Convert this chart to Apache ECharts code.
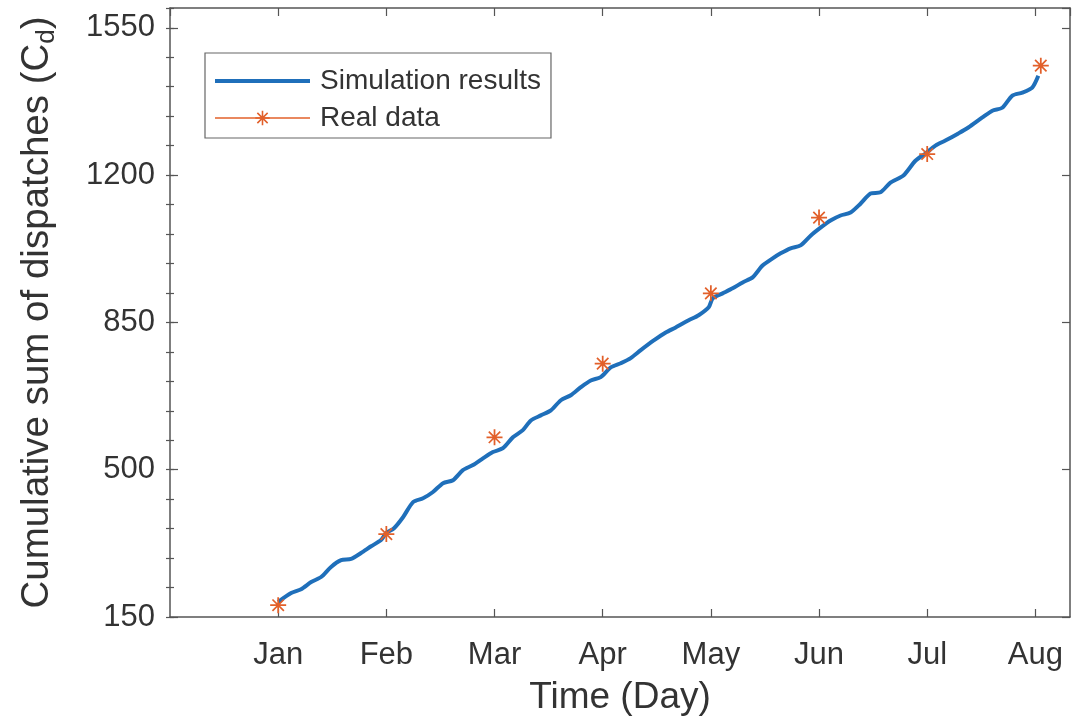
<!DOCTYPE html>
<html>
<head>
<meta charset="utf-8">
<script src="https://cdn.jsdelivr.net/npm/echarts@6/dist/echarts.min.js"></script>
<style>
html,body{margin:0;padding:0;background:#fff;}
#chart{width:1081px;height:722px;}
</style>
</head>
<body>
<div id="chart"></div>
<script>
// x positions are in month units: 1 = Jan, 2 = Feb, ... 8 = Aug
const monthLabels = ['', 'Jan', 'Feb', 'Mar', 'Apr', 'May', 'Jun', 'Jul', 'Aug'];
const simX = [1.000,1.120,1.212,1.305,1.397,1.489,1.582,1.674,1.766,1.859,1.951,1.997,2.071,2.154,2.247,2.339,2.431,2.524,2.616,2.708,2.801,2.893,2.985,3.078,3.170,3.262,3.336,3.428,3.521,3.613,3.705,3.798,3.890,3.982,4.075,4.167,4.259,4.352,4.472,4.583,4.675,4.795,4.887,4.980,5.017,5.109,5.201,5.294,5.386,5.478,5.571,5.645,5.737,5.829,5.922,6.014,6.106,6.199,6.291,6.383,6.476,6.568,6.660,6.780,6.891,6.983,7.076,7.168,7.288,7.380,7.510,7.602,7.694,7.787,7.879,7.971,8.027];
const simY = [186,207,216,233,245,269,285,288,302,318,333,349,361,387,423,432,447,468,475,499,511,527,542,551,577,594,617,629,641,665,677,696,712,720,743,753,765,784,807,826,838,855,867,886,907,919,931,945,957,985,1002,1014,1026,1033,1056,1075,1092,1104,1111,1132,1156,1159,1182,1199,1234,1251,1270,1282,1299,1313,1337,1353,1360,1389,1396,1408,1436];
const realX = [1, 2, 3, 4, 5, 6, 7, 8.05];
const realY = [178, 347, 577, 752, 919, 1099, 1250, 1460];
const yTicks = [150, 500, 850, 1200, 1550];

const simData = simX.map((x, i) => [x, simY[i]]);
const realData = realX.map((x, i) => [x, realY[i]]);

const asterisk = 'path://M8.9 0L11.1 0L11.1 20L8.9 20Z M0 8.9L20 8.9L20 11.1L0 11.1Z M2.1 3.6L3.6 2.1L17.9 16.4L16.4 17.9Z M16.4 2.1L17.9 3.6L3.6 17.9L2.1 16.4Z';

const FONT = 'Liberation Sans, Arial, sans-serif';
const AX = '#555';
const TXT = '#333';
const BLUE = '#1f6fba';
const ORANGE = '#E2602A';
const X_MIN = 0, X_MAX = 8.32, Y_MIN = yTicks[0], Y_MAX = 1597;

const chart = echarts.init(document.getElementById('chart'));
const xBase = {
  type: 'value', min: X_MIN, max: X_MAX, interval: 1,
  axisLine: { show: true, onZero: false, lineStyle: { color: AX, width: 1.5 } },
  axisTick: { show: true, inside: true, length: 8, lineStyle: { color: AX, width: 1.2 } },
  splitLine: { show: false }
};
const yBase = {
  type: 'value', min: Y_MIN, max: Y_MAX, interval: 350,
  axisLine: { show: true, onZero: false, lineStyle: { color: AX, width: 1.5 } },
  axisTick: { show: true, inside: true, length: 8, lineStyle: { color: AX, width: 1.2 } },
  splitLine: { show: false }
};
const yMinor = {
  type: 'value', min: Y_MIN, max: Y_MAX, interval: 70,
  axisLine: { show: false },
  axisLabel: { show: false },
  axisTick: { show: true, inside: true, length: 4, lineStyle: { color: AX, width: 1.2 } },
  splitLine: { show: false }
};

chart.setOption({
  animation: false,
  backgroundColor: '#fff',
  textStyle: { fontFamily: FONT },
  grid: { left: 170, right: 11, top: 8, bottom: 105, containLabel: false },
  xAxis: [
    Object.assign({}, xBase, {
      position: 'bottom',
      name: 'Time (Day)', nameLocation: 'middle', nameGap: 62,
      nameTextStyle: { fontSize: 37, color: TXT, fontFamily: FONT },
      axisLabel: {
        show: true, margin: 23, fontSize: 31, color: TXT, fontFamily: FONT,
        showMaxLabel: false, showMinLabel: false,
        formatter: v => (Math.abs(v - Math.round(v)) < 1e-6 ? (monthLabels[Math.round(v)] || '') : '')
      }
    }),
    Object.assign({}, xBase, { position: 'top', axisLabel: { show: false } })
  ],
  yAxis: [
    Object.assign({}, yBase, {
      position: 'left',
      name: '{a|Cumulative sum of dispatches (C}{s|d}{a|)}',
      nameLocation: 'middle', nameGap: 110,
      nameTextStyle: {
        color: TXT, fontFamily: FONT,
        rich: {
          a: { fontSize: 38.5, color: TXT, fontFamily: FONT, lineHeight: 46, verticalAlign: 'middle' },
          s: { fontSize: 26, color: TXT, fontFamily: FONT, lineHeight: 46, verticalAlign: 'bottom' }
        }
      },
      axisLabel: {
        show: true, margin: 15, fontSize: 31, color: TXT, fontFamily: FONT,
        showMaxLabel: false,
        formatter: v => (yTicks.indexOf(Math.round(v)) >= 0 && Math.abs(v - Math.round(v)) < 1e-6 ? String(Math.round(v)) : '')
      }
    }),
    Object.assign({}, yBase, { position: 'right', axisLabel: { show: false } }),
    Object.assign({}, yMinor, { position: 'left' }),
    Object.assign({}, yMinor, { position: 'right' })
  ],
  legend: {
    orient: 'vertical',
    left: 205, top: 53,
    padding: [13, 10, 5, 8],
    itemWidth: 95, itemHeight: 18, itemGap: 7,
    backgroundColor: '#fff',
    borderColor: '#666', borderWidth: 1.2, borderRadius: 0,
    textStyle: { fontSize: 28, color: TXT, fontFamily: FONT, lineHeight: 30, padding: [0, 0, 0, 5] },
    data: [
      { name: 'Simulation results', itemStyle: { opacity: 0 }, lineStyle: { color: BLUE, width: 4, opacity: 1 } },
      { name: 'Real data', lineStyle: { color: ORANGE, width: 1.5, opacity: 1, type: 'solid' } }
    ]
  },
  series: [
    {
      name: 'Simulation results', type: 'line',
      xAxisIndex: 0, yAxisIndex: 0,
      data: simData,
      symbol: 'none', smooth: 0.25,
      lineStyle: { color: BLUE, width: 4 },
      itemStyle: { color: BLUE },
      z: 2
    },
    {
      name: 'Real data', type: 'line',
      xAxisIndex: 0, yAxisIndex: 0,
      data: realData,
      symbol: asterisk, symbolSize: 16, showSymbol: true,
      lineStyle: { color: ORANGE, width: 0, opacity: 0 },
      itemStyle: { color: ORANGE },
      z: 3
    }
  ]
});
</script>
</body>
</html>
